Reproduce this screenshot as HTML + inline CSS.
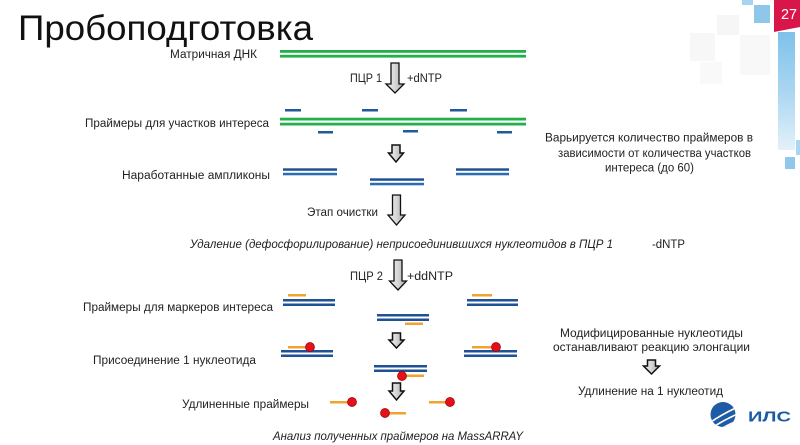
<!DOCTYPE html>
<html>
<head>
<meta charset="utf-8">
<style>
  html,body{margin:0;padding:0;background:#fff;}
  svg{display:block;}
  text{font-family:"Liberation Sans","DejaVu Sans",sans-serif;fill:#222;}
  .lb{font-size:11.5px;}
  .it{font-size:11.5px;font-style:italic;}
</style>
</head>
<body>
<svg width="800" height="445" viewBox="0 0 800 445" xmlns="http://www.w3.org/2000/svg">
  <defs>
    <linearGradient id="ag" x1="0" y1="0" x2="1" y2="0">
      <stop offset="0" stop-color="#f2f2f2"/>
      <stop offset="0.5" stop-color="#d6d6d6"/>
      <stop offset="1" stop-color="#a9a9a9"/>
    </linearGradient>
    <linearGradient id="bc" x1="0" y1="0" x2="0" y2="1">
      <stop offset="0" stop-color="#7fc1ea"/>
      <stop offset="0.5" stop-color="#a9d6f1"/>
      <stop offset="1" stop-color="#e3f1fa"/>
    </linearGradient>
    <clipPath id="lc"><circle cx="723" cy="414.5" r="12.5"/></clipPath>
  </defs>

  <!-- decorative squares top right -->
  <rect x="690" y="33" width="25" height="28" fill="#f7f7f7"/>
  <rect x="717" y="15" width="22" height="20" fill="#f6f6f6"/>
  <rect x="700" y="62" width="22" height="22" fill="#f9f9f9"/>
  <rect x="740" y="35" width="30" height="40" fill="#f8f8f8"/>
  <rect x="742" y="0" width="11" height="5" fill="#a6d3ef"/>
  <rect x="754" y="5" width="16" height="18" fill="#8ec7ea"/>
  <rect x="778" y="32" width="17" height="118" fill="url(#bc)"/>
  <rect x="796" y="140" width="4" height="15" fill="#a9d6f1"/>
  <rect x="785" y="157" width="10" height="12" fill="#8fc8ea"/>
  <polygon points="774,0 800,0 800,27 774,32" fill="#d8164a"/>
  <text x="781" y="19" font-size="15" style="fill:#fff" textLength="16" lengthAdjust="spacingAndGlyphs">27</text>

  <!-- Title -->
  <text x="18" y="40" font-size="35" style="fill:#111" textLength="295" lengthAdjust="spacingAndGlyphs">Пробоподготовка</text>

  <!-- Row 1: template DNA -->
  <text class="lb" x="170" y="58" textLength="87" lengthAdjust="spacingAndGlyphs">Матричная ДНК</text>
  <rect x="280" y="50" width="246" height="2.8" fill="#22b04b"/>
  <rect x="280" y="54.8" width="246" height="2.8" fill="#22b04b"/>

  <!-- arrow 1 -->
  <path d="M391,63 L399,63 L399,84 L404,84 L395,93 L386,84 L391,84 Z" fill="url(#ag)" stroke="#111" stroke-width="1.3"/>
  <text class="lb" x="350" y="82" textLength="32" lengthAdjust="spacingAndGlyphs">ПЦР 1</text>
  <text class="lb" x="407" y="82" textLength="35" lengthAdjust="spacingAndGlyphs">+dNTP</text>

  <!-- primers for regions -->
  <text class="lb" x="85" y="127" textLength="184" lengthAdjust="spacingAndGlyphs">Праймеры для участков интереса</text>
  <g fill="#1f5a9c">
    <rect x="285" y="109" width="16" height="2.5"/>
    <rect x="362" y="109" width="16" height="2.5"/>
    <rect x="450" y="109" width="17" height="2.5"/>
    <rect x="318" y="131" width="15" height="2.5"/>
    <rect x="403" y="130" width="15" height="2.5"/>
    <rect x="497" y="131" width="15" height="2.5"/>
  </g>
  <rect x="280" y="117.7" width="246" height="2.8" fill="#22b04b"/>
  <rect x="280" y="122.7" width="246" height="2.8" fill="#22b04b"/>

  <!-- arrow 2 small -->
  <path d="M392,145 L400,145 L400,153 L403.5,153 L396,162 L388.5,153 L392,153 Z" fill="url(#ag)" stroke="#111" stroke-width="1.5"/>

  <!-- right note 1 -->
  <text class="lb" x="545" y="141.5" textLength="208" lengthAdjust="spacingAndGlyphs">Варьируется количество праймеров в</text>
  <text class="lb" x="558" y="157" textLength="193" lengthAdjust="spacingAndGlyphs">зависимости от количества участков</text>
  <text class="lb" x="605" y="171.5" textLength="89" lengthAdjust="spacingAndGlyphs">интереса (до 60)</text>

  <!-- amplicons -->
  <text class="lb" x="122" y="179" textLength="148" lengthAdjust="spacingAndGlyphs">Наработанные ампликоны</text>
  <g>
    <rect x="283" y="168.3" width="54" height="2.5" fill="#1f5194"/>
    <rect x="283" y="172.8" width="54" height="2.5" fill="#2a6db5"/>
    <rect x="370" y="178.3" width="54" height="2.5" fill="#1f5194"/>
    <rect x="370" y="182.8" width="54" height="2.5" fill="#2a6db5"/>
    <rect x="456" y="168.3" width="53" height="2.5" fill="#1f5194"/>
    <rect x="456" y="172.8" width="53" height="2.5" fill="#2a6db5"/>
  </g>

  <!-- arrow 3 -->
  <path d="M392.5,195 L400.5,195 L400.5,215 L405,215 L396.5,225 L388,215 L392.5,215 Z" fill="url(#ag)" stroke="#111" stroke-width="1.3"/>
  <text class="lb" x="307" y="216" textLength="71" lengthAdjust="spacingAndGlyphs">Этап очистки</text>

  <text class="it" x="190" y="248" textLength="423" lengthAdjust="spacingAndGlyphs">Удаление (дефосфорилирование) неприсоединившихся нуклеотидов в ПЦР 1</text>
  <text class="lb" x="652" y="248" textLength="33" lengthAdjust="spacingAndGlyphs">-dNTP</text>

  <!-- arrow 4 -->
  <path d="M394,260 L402,260 L402,281 L406.5,281 L398,290 L389.5,281 L394,281 Z" fill="url(#ag)" stroke="#111" stroke-width="1.3"/>
  <text class="lb" x="350" y="280" textLength="33" lengthAdjust="spacingAndGlyphs">ПЦР 2</text>
  <text class="lb" x="407" y="280" textLength="46" lengthAdjust="spacingAndGlyphs">+ddNTP</text>

  <!-- primers for markers -->
  <text class="lb" x="83" y="311" textLength="190" lengthAdjust="spacingAndGlyphs">Праймеры для маркеров интереса</text>
  <g>
    <rect x="288" y="294" width="18" height="2.5" fill="#efa430"/>
    <rect x="283" y="299" width="52" height="2.5" fill="#1f5194"/>
    <rect x="283" y="303.5" width="52" height="2.5" fill="#1f5194"/>
    <rect x="472" y="294" width="20" height="2.5" fill="#efa430"/>
    <rect x="467" y="299" width="51" height="2.5" fill="#1f5194"/>
    <rect x="467" y="303.5" width="51" height="2.5" fill="#1f5194"/>
    <rect x="377" y="314" width="52" height="2.5" fill="#1f5194"/>
    <rect x="377" y="318.5" width="52" height="2.5" fill="#1f5194"/>
    <rect x="405" y="322.5" width="18" height="2.5" fill="#efa430"/>
  </g>

  <!-- arrow 5 small -->
  <path d="M392.5,333 L400.5,333 L400.5,340 L404,340 L396.5,348 L389,340 L392.5,340 Z" fill="url(#ag)" stroke="#111" stroke-width="1.5"/>

  <!-- right note 2 -->
  <text class="lb" x="560" y="337" textLength="183" lengthAdjust="spacingAndGlyphs">Модифицированные нуклеотиды</text>
  <text class="lb" x="553" y="351" textLength="197" lengthAdjust="spacingAndGlyphs">останавливают реакцию элонгации</text>
  <path d="M647.5,360 L655.5,360 L655.5,366 L659.5,366 L651.5,374 L643.5,366 L647.5,366 Z" fill="url(#ag)" stroke="#111" stroke-width="1.5"/>
  <text class="lb" x="578" y="395" textLength="145" lengthAdjust="spacingAndGlyphs">Удлинение на 1 нуклеотид</text>

  <!-- attach 1 nucleotide -->
  <text class="lb" x="93" y="364" textLength="163" lengthAdjust="spacingAndGlyphs">Присоединение 1 нуклеотида</text>
  <g>
    <rect x="288" y="346" width="22" height="2.5" fill="#efa430"/>
    <rect x="281" y="350" width="52" height="2.5" fill="#1f5194"/>
    <rect x="281" y="354.5" width="52" height="2.5" fill="#1f5194"/>
    <circle cx="310" cy="347" r="4.5" fill="#e4101c" stroke="#900" stroke-width="0.7"/>
    <rect x="472" y="346" width="24" height="2.5" fill="#efa430"/>
    <rect x="464" y="350" width="53" height="2.5" fill="#1f5194"/>
    <rect x="464" y="354.5" width="53" height="2.5" fill="#1f5194"/>
    <circle cx="496" cy="347" r="4.5" fill="#e4101c" stroke="#900" stroke-width="0.7"/>
    <rect x="374" y="365" width="53" height="2.5" fill="#1f5194"/>
    <rect x="374" y="369.5" width="53" height="2.5" fill="#1f5194"/>
    <rect x="402" y="374.5" width="22" height="2.5" fill="#efa430"/>
    <circle cx="402" cy="376" r="4.5" fill="#e4101c" stroke="#900" stroke-width="0.7"/>
  </g>

  <!-- arrow 6 small -->
  <path d="M392.5,383 L400.5,383 L400.5,391 L404,391 L396.5,400 L389,391 L392.5,391 Z" fill="url(#ag)" stroke="#111" stroke-width="1.5"/>

  <!-- elongated primers -->
  <text class="lb" x="182" y="408" textLength="127" lengthAdjust="spacingAndGlyphs">Удлиненные праймеры</text>
  <g>
    <rect x="330" y="401" width="22" height="2.5" fill="#efa430"/>
    <circle cx="352" cy="402" r="4.5" fill="#e4101c" stroke="#900" stroke-width="0.7"/>
    <rect x="429" y="401" width="21" height="2.5" fill="#efa430"/>
    <circle cx="450" cy="402" r="4.5" fill="#e4101c" stroke="#900" stroke-width="0.7"/>
    <rect x="385" y="412" width="21" height="2.5" fill="#efa430"/>
    <circle cx="385" cy="413" r="4.5" fill="#e4101c" stroke="#900" stroke-width="0.7"/>
  </g>

  <text class="it" x="273" y="440" textLength="250" lengthAdjust="spacingAndGlyphs">Анализ полученных праймеров на MassARRAY</text>

  <!-- logo -->
  <circle cx="723" cy="414.5" r="12.5" fill="#1d5ba4"/>
  <g clip-path="url(#lc)" fill="none" stroke="#fff" stroke-width="1.6">
    <path d="M708,424 Q722,414 740,406"/>
    <path d="M710,429 Q725,419 742,412"/>
    <path d="M714,433 Q728,424 744,418"/>
  </g>
  <text x="748" y="421.5" font-size="15" font-weight="bold" style="fill:#1d5ba4" textLength="43" lengthAdjust="spacingAndGlyphs">ИЛС</text>
</svg>
</body>
</html>
